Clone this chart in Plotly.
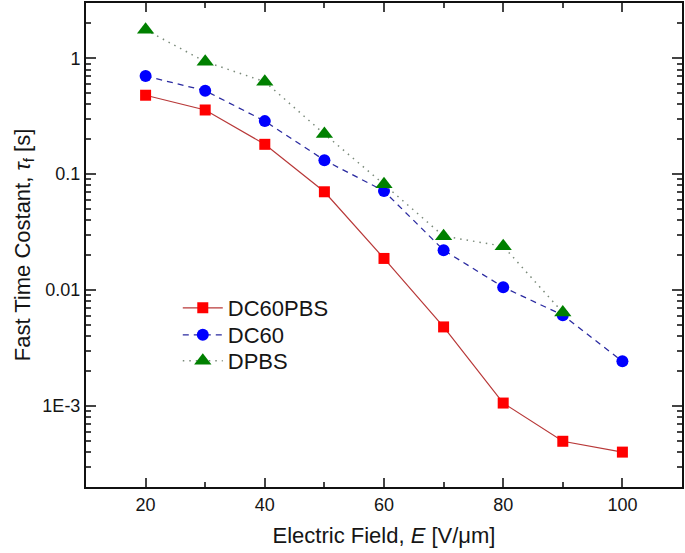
import plotly.graph_objects as go

field = [20, 30, 40, 50, 60, 70, 80, 90, 100]
dc60pbs = [0.48, 0.358, 0.181, 0.0705, 0.01875, 0.00481, 0.00106, 0.000496, 0.0004]
dc60 = [0.703, 0.525, 0.287, 0.132, 0.0715, 0.0221, 0.0106, 0.00607, 0.00243]
dpbs_field = [20, 30, 40, 50, 60, 70, 80, 90]
dpbs = [1.76, 0.935, 0.628, 0.222, 0.0817, 0.0292, 0.0239, 0.0064]

x_ticks = [20, 40, 60, 80, 100]
y_ticks = [1e-3, 0.01, 0.1, 1]
y_ticktext = ["1E-3", "0.01", "0.1", "1"]

fig = go.Figure()
fig.add_trace(go.Scatter(x=field, y=dc60pbs, name="DC60PBS", mode="lines+markers", legend="legend",
                         line=dict(color="#b83838", width=1.2, dash="solid"),
                         marker=dict(symbol="square", size=11, color="#ff0000")))
fig.add_trace(go.Scatter(x=field, y=dc60, name="DC60", mode="lines+markers", legend="legend2",
                         line=dict(color="#2a2aa0", width=1.3, dash="6px,5px"),
                         marker=dict(symbol="circle", size=12, color="#0000ff")))
fig.add_trace(go.Scatter(x=dpbs_field, y=dpbs, name="DPBS", mode="lines+markers", legend="legend3",
                         line=dict(color="#7a8a7a", width=1.5, dash="1.5px,5px"),
                         marker=dict(symbol="triangle-up", size=15, color="#008000")))

minor_y = [m * 10 ** e for e in range(-4, 1) for m in range(2, 10)]
minor_x = [30, 50, 70, 90]

leg_common = dict(x=0.154, xanchor="left", yanchor="top", bgcolor="rgba(0,0,0,0)",
                  font=dict(size=22), itemwidth=40)

fig.update_layout(
    width=685, height=553,
    margin=dict(l=86, r=3, t=3, b=66),
    paper_bgcolor="white", plot_bgcolor="white",
    font=dict(family="Liberation Sans, Arial, sans-serif", size=18, color="#151515"),
    showlegend=True,
    legend=dict(y=0.4132, **leg_common),
    legend2=dict(y=0.3574, **leg_common),
    legend3=dict(y=0.3037, **leg_common),
    xaxis=dict(range=[10, 110], tickvals=x_ticks, ticks="inside", ticklen=9,
               tickwidth=1.5, showline=True, linewidth=2, linecolor="#111",
               mirror="ticks", showgrid=False, zeroline=False, automargin=False,
               tickfont=dict(size=18),
               minor=dict(tickvals=minor_x, ticks="inside", ticklen=5, tickwidth=1.5, showgrid=False),
               title=dict(text="Electric Field, <i>E</i> [V/μm]", font=dict(size=22), standoff=14)),
    yaxis=dict(type="log", range=[-3.699, 0.477], tickvals=y_ticks, ticktext=y_ticktext,
               ticks="inside", ticklen=10, tickwidth=1.5, showline=True, linewidth=2,
               linecolor="#111", mirror="ticks", showgrid=False, zeroline=False, automargin=False,
               tickfont=dict(size=18),
               minor=dict(tickvals=minor_y, ticks="inside", ticklen=5, tickwidth=1.5, showgrid=False),
               title=dict(text="Fast Time Costant, <i>τ</i><sub>f</sub> [s]", font=dict(size=22), standoff=6)),
)

fig.write_html("out.html", config={"displayModeBar": False},
               post_script="document.body.style.margin='0';")
